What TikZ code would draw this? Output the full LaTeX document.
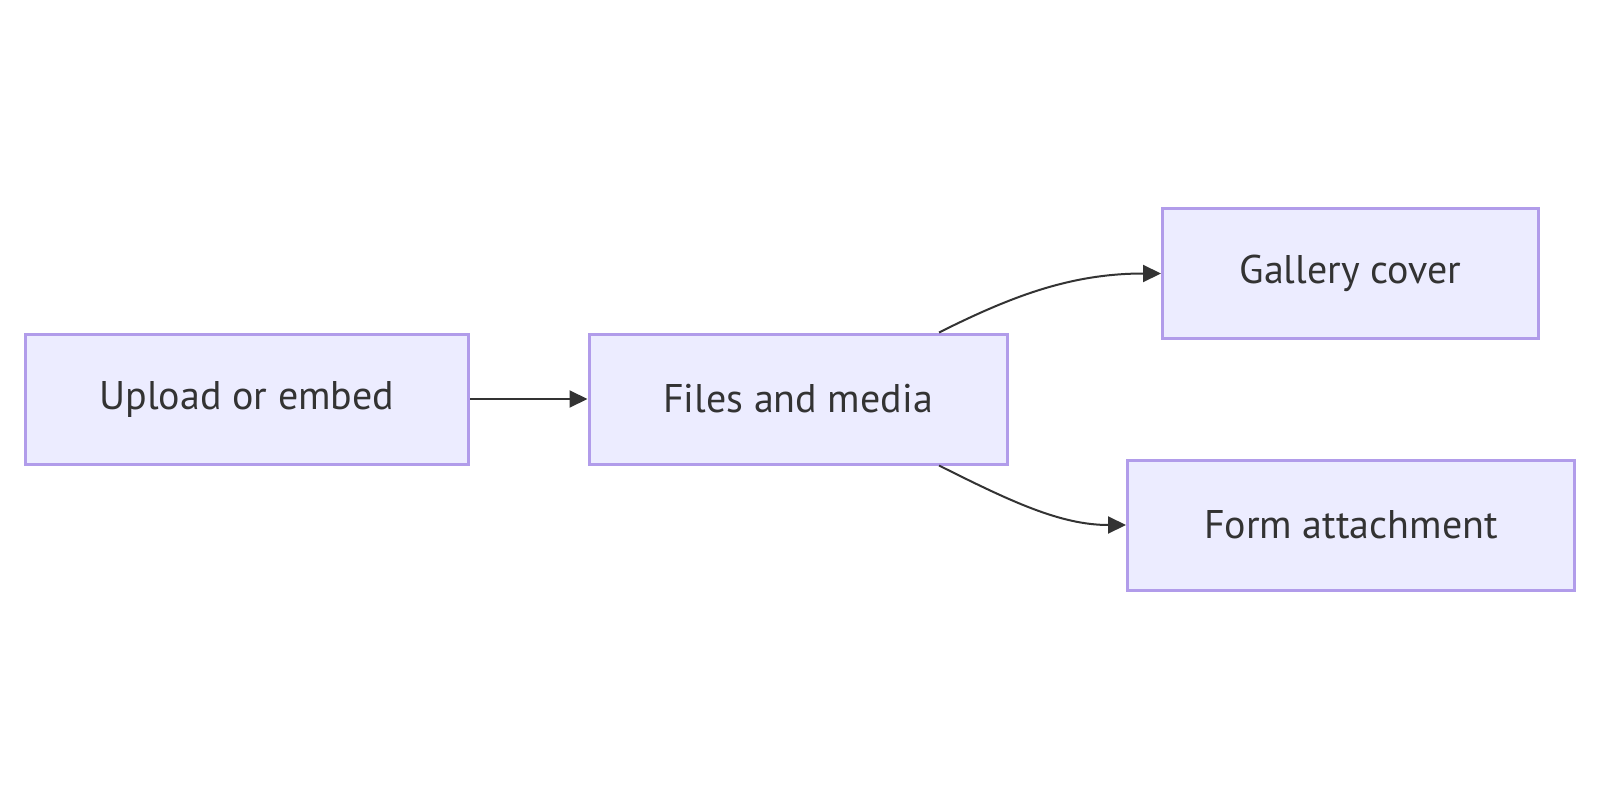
\documentclass[tikz,border=0pt]{standalone}
\usepackage{fontspec}
\setmainfont{PT Sans}
\usetikzlibrary{arrows.meta}
\definecolor{boxfill}{HTML}{ECECFF}
\definecolor{boxline}{HTML}{B19CEA}
\definecolor{ink}{HTML}{333333}
\tikzset{
  box/.style={draw=boxline, fill=boxfill, line width=3pt, rectangle, inner sep=0pt,
    text=ink, font=\fontsize{40}{44}\selectfont},
  link/.style={draw=ink, line width=2pt, -{Triangle[length=18pt,width=17pt]}}
}
\begin{document}
\begin{tikzpicture}[x=1pt,y=-1pt]
\useasboundingbox (0,0) rectangle (1600,800);
\node[box, minimum width=443pt, minimum height=130pt] (up) at (247,399) {Upload or embed};
\node[box, minimum width=418pt, minimum height=130pt] (files) at (798,399) {Files and media};
\node[box, minimum width=376pt, minimum height=130pt] (gal) at (1350.5,273.5) {Gallery cover};
\node[box, minimum width=447pt, minimum height=130pt] (form) at (1351,525) {Form attachment};
\coordinate (fa) at ([xshift=141pt]files.north);
\coordinate (fb) at ([xshift=141pt]files.south);
\draw[link] (up.east) -- (files.west);
\draw[link] (fa) .. controls (1010,297) and (1070,273.5) .. (gal.west);
\draw[link] (fb) .. controls (1010,501) and (1060,525) .. (form.west);
\end{tikzpicture}
\end{document}
